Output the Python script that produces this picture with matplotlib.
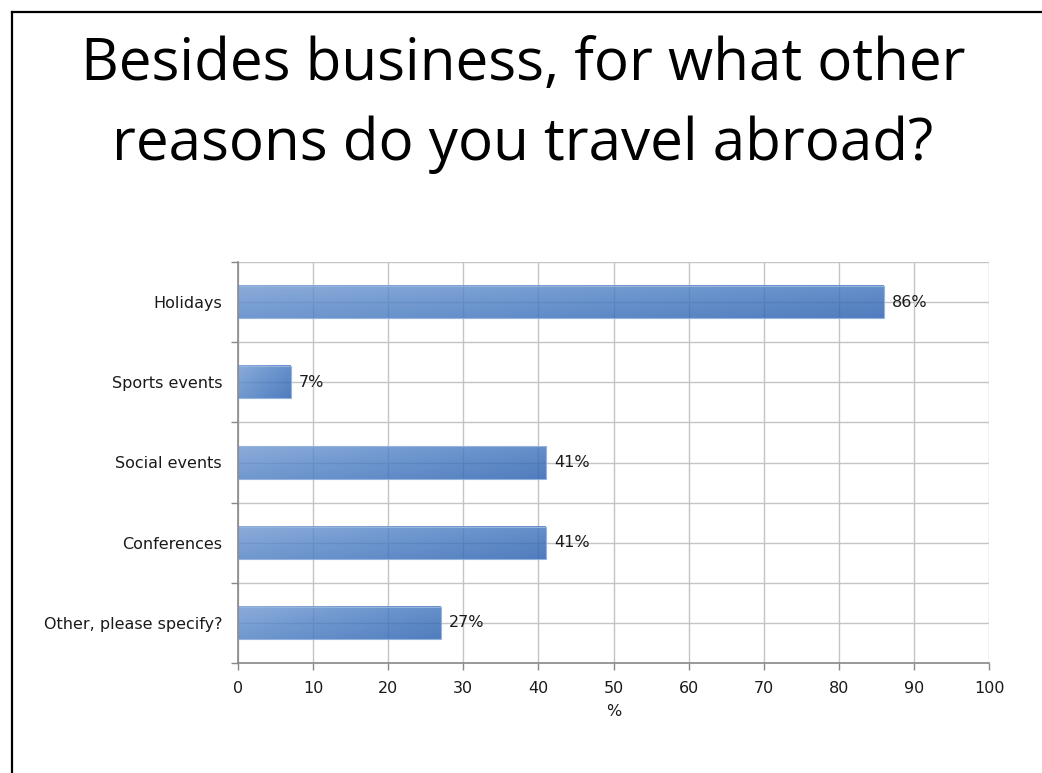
import numpy as np
import matplotlib
matplotlib.use("Agg")
import matplotlib.pyplot as plt
from matplotlib.lines import Line2D
from matplotlib.colors import LinearSegmentedColormap

# Survey answers
categories = ["Holidays", "Sports events", "Social events", "Conferences", "Other, please specify?"]
values = [86, 7, 41, 41, 27]
value_labels = ["86%", "7%", "41%", "41%", "27%"]
x_ticks = [0, 10, 20, 30, 40, 50, 60, 70, 80, 90, 100]
title_lines = ["Besides business, for what other", "reasons do you travel abroad?"]
x_label = "%"

W, H = 1042, 773
fig = plt.figure(figsize=(W / 100, H / 100), dpi=100)
fig.patch.set_facecolor("white")

# slide frame (left and top edges)
fig.add_artist(Line2D([11.5 / W, 11.5 / W], [0, 1 - 12 / H], transform=fig.transFigure,
                      color="black", lw=1.6))
fig.add_artist(Line2D([11.5 / W, 1], [1 - 12 / H, 1 - 12 / H], transform=fig.transFigure,
                      color="black", lw=1.6))

# two-line title
for line, base in zip(title_lines, [80, 160]):
    fig.text(523 / W, 1 - base / H, line, ha="center", va="baseline",
             fontsize=42, family="Open Sans", color="black")

ax = fig.add_axes([238 / W, 110 / H, (989 - 238) / W, (663 - 262) / H])

n = len(categories)
ypos = np.arange(n)
bar_h = 0.4
lab_fs = 11.5
txt_c = "#1a1a1a"

ax.set_xlim(0, 100)
ax.set_ylim(n - 0.5, -0.5)

# grid lines: verticals at each x tick, horizontals at category centres and boundaries
grid_c = "#c4c4c4"
for xv in x_ticks:
    ax.axvline(xv, color=grid_c, lw=1.0, zorder=1)
for yv in np.arange(-0.5, n, 0.5):
    ax.axhline(yv, color=grid_c, lw=1.0, zorder=1)

# gradient-filled, slightly translucent bars
cmap = LinearSegmentedColormap.from_list("bar", ["#7299d2", "#4a7dc2", "#2a60b0"])
gx = np.linspace(0, 1, 200)
gy = np.linspace(0, 1, 40)
GX, GY = np.meshgrid(gx, gy)
for y, v in zip(ypos, values):
    grad = 0.6 * GX + 0.4 * GY
    ax.imshow(grad, cmap=cmap, vmin=0, vmax=1, aspect="auto", interpolation="bilinear",
              extent=[0, v, y + bar_h / 2, y - bar_h / 2], origin="upper",
              zorder=2, alpha=0.82)
    ax.add_patch(plt.Rectangle((0, y - bar_h / 2), v, bar_h, fill=False,
                               edgecolor="#94b3dd", lw=0.8, zorder=3))

ax.set_xlim(0, 100)
ax.set_ylim(n - 0.5, -0.5)

for y, v, lab in zip(ypos, values, value_labels):
    ax.annotate(lab, (v, y), xytext=(6, 0), textcoords="offset points",
                ha="left", va="center", fontsize=lab_fs, color=txt_c,
                family="DejaVu Sans", zorder=4)

ax.set_yticks(ypos)
ax.set_yticklabels(categories, fontsize=lab_fs, color=txt_c)
ax.set_yticks(np.arange(-0.5, n, 1.0), minor=True)
ax.tick_params(axis="y", which="major", length=0, pad=11.5)
ax.tick_params(axis="y", which="minor", length=5, color="#888888", width=1)

ax.set_xticks(x_ticks)
ax.set_xticklabels([str(t) for t in x_ticks], fontsize=lab_fs, color=txt_c)
ax.tick_params(axis="x", length=5, color="#888888", width=1, pad=8)
ax.set_xlabel(x_label, fontsize=lab_fs, color=txt_c, labelpad=6)

for s in ["top", "right"]:
    ax.spines[s].set_visible(False)
for s in ["left", "bottom"]:
    ax.spines[s].set_color("#888888")
    ax.spines[s].set_linewidth(1.2)
    ax.spines[s].set_zorder(5)

fig.savefig("out.png", dpi=100, facecolor="white")
